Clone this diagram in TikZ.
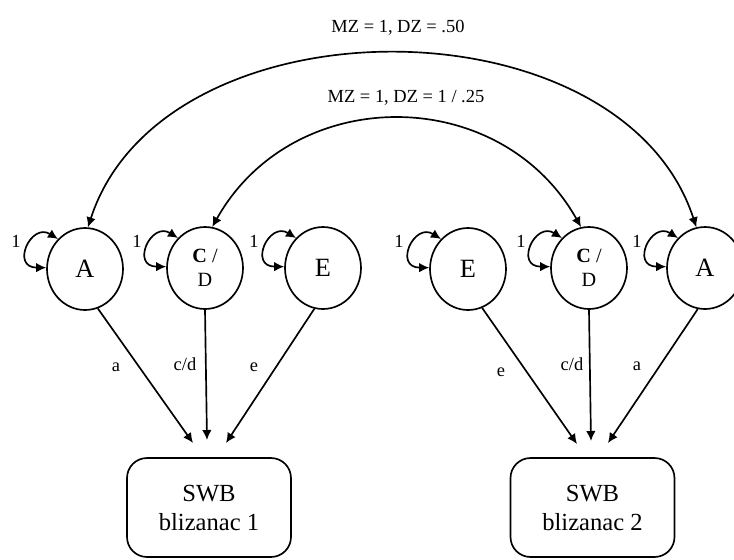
\documentclass[tikz,border=0pt]{standalone}
\usepackage{fontspec}
\setmainfont{Liberation Serif}
\usetikzlibrary{shapes.geometric,arrows.meta}

\begin{document}
\begin{tikzpicture}[x=0.02cm, y=-0.02cm, line width=0.95pt,
      >={Latex[length=2mm,width=1.9mm]},
      latent/.style={draw, ellipse, minimum width=1.52cm, minimum height=1.64cm, inner sep=0pt, align=center, font=\fontsize{15}{17}\selectfont},
      observed/.style={draw, rounded corners=0.4cm, minimum width=3.28cm, minimum height=1.98cm, align=center, font=\fontsize{14}{16.5}\selectfont},
      lbl/.style={inner sep=0pt, anchor=base, font=\fontsize{10.5}{12}\selectfont},
      toplbl/.style={inner sep=0pt, anchor=base, font=\fontsize{10.5}{12}\selectfont}
    ]
    \useasboundingbox (0,0) rectangle (734,559);

    % twin 1
    \node[latent] (A1) at (85,269) {A};
    \node[latent, font=\fontsize{11.5}{14}\selectfont] (CD1) at (205,268) {\textbf{C} /\\D};
    \node[latent] (E1) at (323,268) {E};

    % twin 2
    \node[latent] (E2) at (468,269) {E};
    \node[latent, font=\fontsize{11.5}{14}\selectfont] (CD2) at (589,268) {\textbf{C} /\\D};
    \node[latent] (A2) at (705,268) {A};

    % observed variables
    \node[observed] (SWB1) at (209,507.5) {SWB\\blizanac 1};
    \node[observed] (SWB2) at (592.5,507.5) {SWB\\blizanac 2};

    % arrow ends above the boxes
    \coordinate (t1a) at (193,443);
    \coordinate (t1c) at (207,440);
    \coordinate (t1e) at (226,443);
    \coordinate (t2e) at (577,444);
    \coordinate (t2c) at (591,441);
    \coordinate (t2a) at (608,443);

    \draw[->] (A1.-72) -- (t1a);
    \draw[->] (CD1.south) -- (t1c);
    \draw[->] (E1.-102) -- (t1e);
    \draw[->] (E2.-70) -- (t2e);
    \draw[->] (CD2.south) -- (t2c);
    \draw[->] (A2.-100) -- (t2a);

    \node[lbl] (la1) at (116,371) {a};
    \node[lbl] (lc1) at (185,370) {c/d};
    \node[lbl] (le1) at (254,371) {e};
    \node[lbl] (le2) at (501,376) {e};
    \node[lbl] (lc2) at (572,370) {c/d};
    \node[lbl] (la2) at (637,370) {a};

    % variances
    \draw[<->] (A1.132) .. controls +(-27,-17) and +(-36,0) .. (A1.178);
    \draw[<->] (CD1.132) .. controls +(-27,-17) and +(-36,0) .. (CD1.178);
    \draw[<->] (E1.132) .. controls +(-27,-17) and +(-36,0) .. (E1.178);
    \draw[<->] (E2.132) .. controls +(-27,-17) and +(-36,0) .. (E2.178);
    \draw[<->] (CD2.132) .. controls +(-27,-17) and +(-36,0) .. (CD2.178);
    \draw[<->] (A2.132) .. controls +(-27,-17) and +(-36,0) .. (A2.178);

    \node[lbl] (v1) at (16,247) {1};
    \node[lbl] (v2) at (137,247) {1};
    \node[lbl] (v3) at (254,247) {1};
    \node[lbl] (v4) at (399,247) {1};
    \node[lbl] (v5) at (521,247) {1};
    \node[lbl] (v6) at (637,247) {1};

    % twin covariances
    \draw[<->] (A1.86) .. controls (163,-4) and (621,-4) .. (A2.102);
    \draw[<->] (CD1.80) .. controls (293,83) and (500,83) .. (CD2.101);

    \node[toplbl] (mzA) at (398,32) {MZ = 1, DZ = .50};
    \node[toplbl] (mzC) at (406,102) {MZ = 1, DZ = 1 / .25};

\end{tikzpicture}
\end{document}
